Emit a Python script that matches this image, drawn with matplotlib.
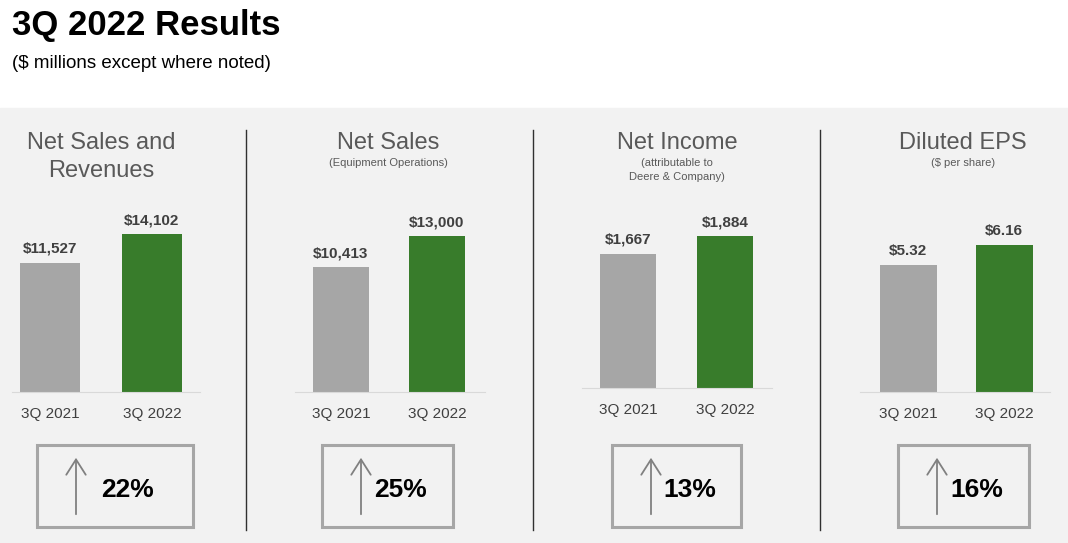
import matplotlib
matplotlib.use("Agg")
import matplotlib.pyplot as plt
from matplotlib.patches import Rectangle, FancyArrowPatch

plt.rcParams['font.family'] = ['Liberation Sans', 'DejaVu Sans']

titles = ["Net Sales and\nRevenues", "Net Sales", "Net Income", "Diluted EPS"]
subtitles = ["", "(Equipment Operations)", "(attributable to\nDeere & Company)", "($ per share)"]
categories = ["3Q 2021", "3Q 2022"]
values = [[11527, 14102], [10413, 13000], [1667, 1884], [5.32, 6.16]]
labels = [["$11,527", "$14,102"], ["$10,413", "$13,000"], ["$1,667", "$1,884"], ["$5.32", "$6.16"]]
changes = ["22%", "25%", "13%", "16%"]

W, H = 1068, 543
fig = plt.figure(figsize=(W/100, H/100), dpi=100)

def fx(x): return x / W
def fy(y): return 1 - y / H

bg = fig.add_axes([0, 0, 1, 1]); bg.set_axis_off()
bg.set_xlim(0, W); bg.set_ylim(H, 0)
bg.add_patch(Rectangle((0, 108), W, H - 108, color="#f2f2f2", zorder=0))
for x in [246, 533, 820]:
    bg.plot([x, x], [130, 530], color="#303030", lw=1.0)

fig.text(fx(12), fy(25), "3Q 2022 Results", fontsize=25, fontweight="bold", va="center", color="black")
fig.text(fx(12), fy(63), "($ millions except where noted)", fontsize=13.5, va="center", color="black")

centers = [(50, 152, 60), (341, 437, 56), (628, 725, 56), (908, 1004, 57)]
baselines = [392, 392, 388, 392]
tops = [234, 236, 236, 245]
axspan = [(12, 200), (295, 485), (582, 772), (860, 1050)]
title_x = [101, 388, 677, 963]
boxes = [(37, 193), (322, 453), (612, 741), (898, 1029)]
gray, green = "#a6a6a6", "#387c2b"

for i in range(4):
    c0, c1, w = centers[i]
    d = c1 - c0
    L, R = axspan[i]
    ax = fig.add_axes([fx(L), fy(baselines[i]), (R - L) / W, (baselines[i] - tops[i]) / H])
    ax.set_xlim((L - c0) / d, (R - c0) / d)
    ax.set_ylim(0, values[i][1])
    ax.bar([0, 1], values[i], width=w / d, color=[gray, green])
    for s in ["top", "right", "left"]:
        ax.spines[s].set_visible(False)
    ax.spines["bottom"].set_color("#d9d9d9")
    ax.set_facecolor("none")
    ax.set_yticks([])
    ax.set_xticks([0, 1])
    ax.set_xticklabels(categories, fontsize=11, color="#404040")
    ax.tick_params(axis="x", length=0, pad=11)
    for j in range(2):
        ax.annotate(labels[i][j], (j, values[i][j]), xytext=(0, 5), textcoords="offset points",
                    ha="center", va="bottom", fontsize=11, fontweight="bold", color="#404040")
    if i == 0:
        fig.text(fx(title_x[i]), fy(157), titles[i], fontsize=17, ha="center", va="center",
                 color="#595959", linespacing=1.3)
    else:
        fig.text(fx(title_x[i]), fy(143), titles[i], fontsize=17, ha="center", va="center", color="#595959")
        fig.text(fx(title_x[i]), fy(158), subtitles[i], fontsize=8, ha="center", va="top",
                 color="#595959", linespacing=1.45)
    x0, x1 = boxes[i]
    bg.add_patch(Rectangle((x0, 445), x1 - x0, 82, fill=False, ec="#a6a6a6", lw=2.2))
    ax_x = x0 + 39
    bg.add_patch(FancyArrowPatch((ax_x, 517), (ax_x, 455), arrowstyle="->,head_length=11,head_width=7",
                                 color="#808080", lw=1.3, mutation_scale=1))
    bg.text((x0 + x1) / 2 + 13, 490, changes[i], fontsize=19, fontweight="bold",
            ha="center", va="center", color="black")

fig.savefig("out.png", dpi=100)
